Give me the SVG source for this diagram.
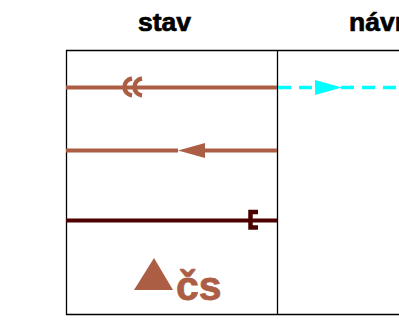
<svg xmlns="http://www.w3.org/2000/svg" width="399" height="320" viewBox="0 0 399 320">
<style>
.h{font-family:"Liberation Sans",Arial,sans-serif;font-weight:bold;font-size:26.500px;fill:#000;stroke:#000;stroke-width:.7px}
.br{stroke:#ac5e45;stroke-width:4;fill:none}
.dk{stroke:#4c0000;stroke-width:4;fill:none}
.frame{stroke:#000;stroke-width:1.3;fill:none}
</style>
<rect width="399" height="320" fill="#fff"/>
<g id="frame">
<path class="frame" d="M399 50.500H66.500V314.500H399M277.500 50.500V314.500"/>
</g>
<g id="headers">
<text class="h" x="138" y="30.500">stav</text>
<text class="h" x="349" y="30.500">návr</text>
</g>
<g id="connectors">
<path class="br" d="M66 87.500H277"/>
<path class="br" stroke-width="4.500" style="stroke-width:4.500" d="M132 78.500C122 80 122 94 132 95.500M142 78.500C132 80 132 94 142 95.500"/>
<path d="M278 87.500H399" stroke="#00ffff" stroke-width="3.500" stroke-dasharray="13 8" fill="none"/>
<path d="M315 80L342 87.500L315 95Z" fill="#00ffff"/>
<path class="br" d="M66 150.500H178M205 150.500H277"/>
<path d="M178 150.500L205 143V158Z" fill="#ac5e45"/>
<path class="dk" d="M66 220.500H277"/>
<path class="dk" style="stroke-width:4.500" d="M258 212H250.500V227.500H258"/>
</g>
<g id="legend">
<path d="M134 290L154 258L173 290Z" fill="#ac5e45"/>
<text x="176" y="299.500" font-family="'Liberation Sans',Arial,sans-serif" font-weight="bold" font-size="41" fill="#ac5e45" stroke="#ac5e45" stroke-width=".8">čs</text>
</g>
</svg>
